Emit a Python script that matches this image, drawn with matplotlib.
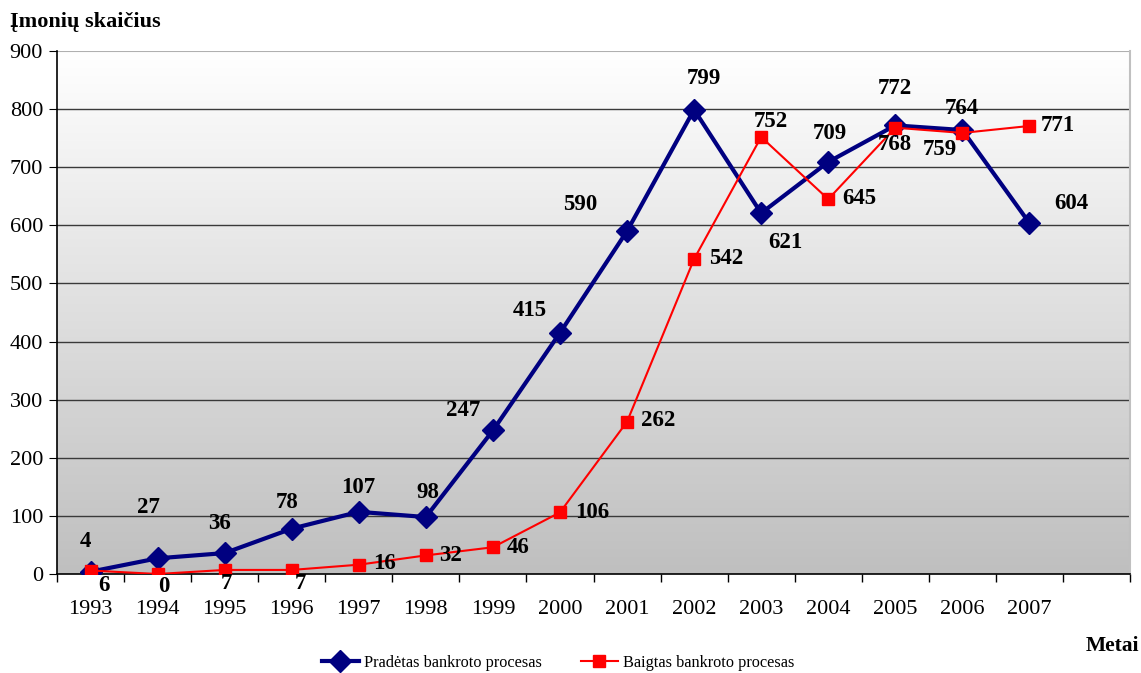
import numpy as np
import matplotlib
matplotlib.use("Agg")
import matplotlib.pyplot as plt
from matplotlib.colors import LinearSegmentedColormap

# Data
years = ["1993", "1994", "1995", "1996", "1997", "1998", "1999", "2000",
         "2001", "2002", "2003", "2004", "2005", "2006", "2007"]
started = [4, 27, 36, 78, 107, 98, 247, 415, 590, 799, 621, 709, 772, 764, 604]
finished = [6, 0, 7, 7, 16, 32, 46, 106, 262, 542, 752, 645, 768, 759, 771]
series_names = ["Pradėtas bankroto procesas", "Baigtas bankroto procesas"]
y_title = "Įmonių skaičius"
x_title = "Metai"

# Label offsets in pixels (dx, dy) relative to each point
started_off = [(-5, 30), (-9, 51), (-5, 30), (-5, 26), (-1, 24), (2, 25),
               (-30, 20), (-30, 22), (-47, 27), (10, 31), (24, -29), (2, 28),
               (0, 37), (-1, 22), (42, 20)]
finished_off = [(13, -15), (6, -12), (2, -14), (9, -14), (26, 1), (25, 0),
                (25, 0), (32, 0), (31, 1), (32, 1), (10, 16), (31, 1),
                (0, -17), (-22, -17), (28, 0)]

plt.rcParams["font.family"] = ["Liberation Serif", "DejaVu Serif"]

fig = plt.figure(figsize=(11.41, 6.73), dpi=100)
ax = fig.add_axes([57 / 1141, 1 - 574 / 673, (1130 - 57) / 1141, (574 - 51) / 673])

# Vertical gradient background: white at top, grey at bottom
cmap = LinearSegmentedColormap.from_list("bg", ["#ffffff", "#bfbfbf"])
grad = np.linspace(0, 1, 256).reshape(-1, 1)
ax.imshow(grad, cmap=cmap, aspect="auto", extent=[0, 1, 0, 1],
          transform=ax.transAxes, zorder=0)

x = np.arange(len(years))
ax.plot(x, started, color="#000080", lw=3, marker="D", ms=11,
        label=series_names[0], zorder=4)
ax.plot(x, finished, color="#ff0000", lw=1.5, marker="s", ms=8,
        label=series_names[1], zorder=5)

for xi, v, (dx, dy) in zip(x, started, started_off):
    ax.annotate(str(v), (xi, v), xytext=(dx, dy), textcoords="offset pixels",
                ha="center", va="center", fontsize=16.5, fontweight="bold",
                color="black", zorder=6)
for xi, v, (dx, dy) in zip(x, finished, finished_off):
    ax.annotate(str(v), (xi, v), xytext=(dx, dy), textcoords="offset pixels",
                ha="center", va="center", fontsize=16.5, fontweight="bold",
                color="black", zorder=6)

ax.set_xlim(-0.5, 15.5)
ax.set_ylim(0, 900)
ax.set_yticks(np.arange(0, 901, 100))
ax.set_xticks(np.arange(-0.5, 15.6, 1))
ax.set_xticklabels([])
ax.set_xticks(x, minor=True)
ax.set_xticklabels(years, minor=True)
ax.tick_params(axis="x", which="minor", length=0, pad=18.5, labelsize=16)
ax.tick_params(axis="x", which="major", length=6, direction="out", width=1)
ax.tick_params(axis="y", length=6, direction="out", labelsize=16, pad=4)

for yv in range(100, 900, 100):
    ax.axhline(yv, color="#3a3a3a", lw=1, zorder=1)
ax.axhline(900, color="#b0b0b0", lw=1.5, zorder=1)

ax.spines["top"].set_visible(False)
ax.spines["right"].set_color("#c0c0c0")
ax.spines["right"].set_linewidth(1.5)
ax.spines["left"].set_linewidth(1.2)
ax.spines["bottom"].set_linewidth(1.2)

fig.text(10 / 1141, 1 - 22 / 673, y_title, fontsize=16, fontweight="bold",
         ha="left", va="center")
fig.text(1139 / 1141, 1 - 646 / 673, x_title, fontsize=15.5, fontweight="bold",
         ha="right", va="center")

fig.legend(loc="center", bbox_to_anchor=(558 / 1141, 1 - 663 / 673), ncol=2,
           frameon=False, fontsize=11.7, handlelength=2.3, columnspacing=2.4,
           handletextpad=0.3, borderpad=0)

fig.savefig("out.png", dpi=100)
